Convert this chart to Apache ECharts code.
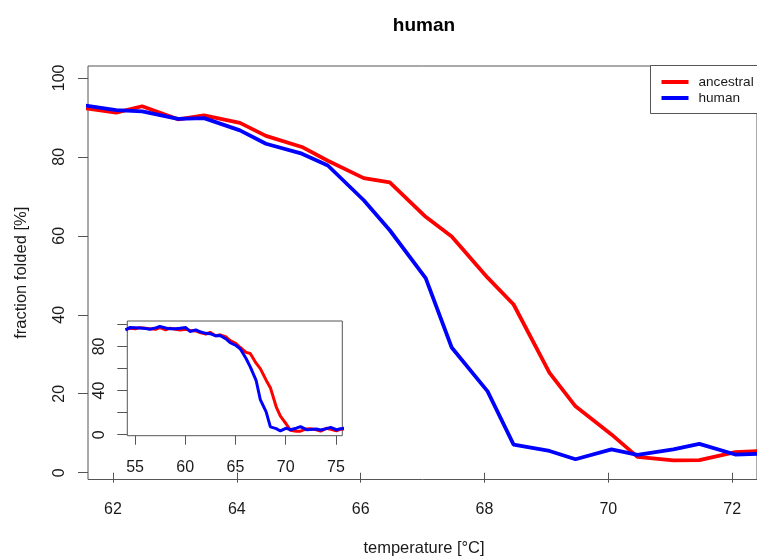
<!DOCTYPE html>
<html>
<head>
<meta charset="utf-8">
<script src="https://cdn.jsdelivr.net/npm/echarts@6/dist/echarts.min.js"></script>
<style>html,body{margin:0;padding:0;background:#fff}#c{width:757px;height:558px}</style>
</head>
<body>
<div id="c"></div>
<script>
// ---- data ----
var temps = [54.05, 54.47, 55.05, 55.47, 56.05, 56.47, 57.05, 57.47, 58.05, 58.47,
             59.05, 59.47, 60.05, 60.47, 61.05, 61.47, 62.05, 62.47, 63.05, 63.47,
             64.05, 64.47, 65.05, 65.47, 66.05, 66.47, 67.05, 67.47, 68.05, 68.47,
             69.05, 69.47, 70.05, 70.47, 71.05, 71.47, 72.05, 72.47, 73.05, 73.47,
             74.05, 74.47, 75.05, 75.47, 76.05];
var ancestral = [95.0, 96.5, 96.0, 97.0, 96.5, 96.0, 95.5, 97.0, 95.0, 96.5,
                 95.5, 94.8, 95.5, 94.5, 94.0, 92.5, 91.2, 92.8, 89.5, 90.5,
                 88.6, 85.3, 82.5, 79.0, 74.6, 73.5, 64.8, 59.8, 49.4, 42.6,
                 25.3, 16.8, 9.7, 4.0, 3.1, 3.2, 5.2, 5.5, 4.5, 3.2,
                 5.8, 5.0, 3.5, 5.0, 5.5];
var human = [95.0, 97.0, 96.8, 96.6, 96.2, 95.6, 96.8, 98.0, 96.6, 95.9,
             95.9, 96.4, 97.1, 93.5, 95.0, 93.2, 91.8, 91.5, 89.6, 89.8,
             86.7, 83.3, 80.8, 77.8, 69.0, 61.4, 49.3, 31.7, 20.6, 7.1,
             5.5, 3.4, 5.9, 4.5, 5.9, 7.3, 4.6, 4.8, 5.1, 4.2,
             5.5, 6.6, 4.5, 5.5, 6.0];
var mainXTicks = [62, 64, 66, 68, 70, 72];
var mainYTicks = [0, 20, 40, 60, 80, 100];
var insetXTicks = [55, 60, 65, 70, 75];
var insetYTicks = [0, 20, 40, 60, 80, 100];
var insetYLabels = [0, 40, 80];
var titleText = 'human';
var xTitle = 'temperature [°C]';
var yTitle = 'fraction folded [%]';
var seriesNames = ['ancestral', 'human'];
var seriesColors = ['#ff0000', '#0000ff'];

function pairs(xs, ys) { return xs.map(function (x, i) { return [x, ys[i]]; }); }

var FONT = '"Liberation Sans", Arial, Helvetica, sans-serif';
var AX = '#555';
var TXT = '#1a1a1a';

function xAxisCfg(grid, min, max, ticks, margin) {
  return {
    type: 'value', gridIndex: grid, min: min, max: max,
    axisLine: { show: false },
    splitLine: { show: false },
    axisTick: { show: true, inside: false, length: 10, customValues: ticks, lineStyle: { color: AX, width: 1 } },
    axisLabel: { show: true, customValues: ticks, margin: margin, fontSize: 16, color: TXT, fontFamily: FONT }
  };
}
function yAxisCfg(grid, min, max, ticks, labels, margin) {
  return {
    type: 'value', gridIndex: grid, min: min, max: max,
    axisLine: { show: false },
    splitLine: { show: false },
    axisTick: { show: true, inside: false, length: 10, customValues: ticks, lineStyle: { color: AX, width: 1 } },
    axisLabel: { show: true, customValues: labels, rotate: 90, margin: margin, fontSize: 16, color: TXT, fontFamily: FONT }
  };
}

var chart = echarts.init(document.getElementById('c'), null, { renderer: 'canvas' });
var mainXMin = 61.596, mainXMax = 72.401;
var option = {
  animation: false,
  backgroundColor: '#fff',
  textStyle: { fontFamily: FONT },
  grid: [
    { left: 88, top: 66, width: 672, height: 413.5, show: true, borderColor: AX, borderWidth: 1, backgroundColor: 'transparent', containLabel: false },
    { left: 127.3, top: 321, width: 215, height: 114.7, show: true, borderColor: AX, borderWidth: 1, backgroundColor: '#fff', containLabel: false, z: 3 }
  ],
  xAxis: [
    xAxisCfg(0, mainXMin, mainXMax, mainXTicks, 22),
    xAxisCfg(1, 54.23, 75.63, insetXTicks, 23.5)
  ],
  yAxis: [
    yAxisCfg(0, -1.72, 103, mainYTicks, mainYTicks, 20),
    yAxisCfg(1, -0.9, 103, insetYTicks, insetYLabels, 20)
  ],
  legend: {
    data: seriesNames,
    orient: 'vertical',
    left: 661.5, top: 74,
    padding: 0,
    itemGap: 0,
    icon: 'rect',
    itemWidth: 27, itemHeight: 4,
    textStyle: { fontSize: 13.6, color: TXT, lineHeight: 16, padding: [0, 0, 0, 5], fontFamily: FONT },
    selectedMode: false,
    z: 10
  },
  graphic: [
    { type: 'rect', shape: { x: 650.5, y: 65.5, width: 130, height: 48 }, style: { fill: '#fff', stroke: AX, lineWidth: 1 }, z: 5 },
    { type: 'text', x: 424, y: 26, style: { text: titleText, font: 'bold 19px ' + FONT, fill: '#000', textAlign: 'center', textVerticalAlign: 'middle' } },
    { type: 'text', x: 424, y: 548.5, style: { text: xTitle, font: '16.5px ' + FONT, fill: TXT, textAlign: 'center', textVerticalAlign: 'middle' } },
    { type: 'text', x: 21, y: 272.8, rotation: Math.PI / 2, style: { text: yTitle, font: '16.5px ' + FONT, fill: TXT, textAlign: 'center', textVerticalAlign: 'middle' } }
  ],
  series: [
    { name: seriesNames[0], type: 'line', xAxisIndex: 0, yAxisIndex: 0, data: pairs(temps, ancestral), showSymbol: false, symbol: 'none', clip: true, lineStyle: { color: seriesColors[0], width: 3.8 }, itemStyle: { color: seriesColors[0] }, z: 2 },
    { name: seriesNames[1], type: 'line', xAxisIndex: 0, yAxisIndex: 0, data: pairs(temps, human), showSymbol: false, symbol: 'none', clip: true, lineStyle: { color: seriesColors[1], width: 3.8 }, itemStyle: { color: seriesColors[1] }, z: 2 },
    { name: seriesNames[0], type: 'line', xAxisIndex: 1, yAxisIndex: 1, data: pairs(temps, ancestral), showSymbol: false, symbol: 'none', clip: true, lineStyle: { color: seriesColors[0], width: 3 }, itemStyle: { color: seriesColors[0] }, z: 4 },
    { name: seriesNames[1], type: 'line', xAxisIndex: 1, yAxisIndex: 1, data: pairs(temps, human), showSymbol: false, symbol: 'none', clip: true, lineStyle: { color: seriesColors[1], width: 3 }, itemStyle: { color: seriesColors[1] }, z: 4 }
  ]
};
chart.setOption(option);
</script>
</body>
</html>
